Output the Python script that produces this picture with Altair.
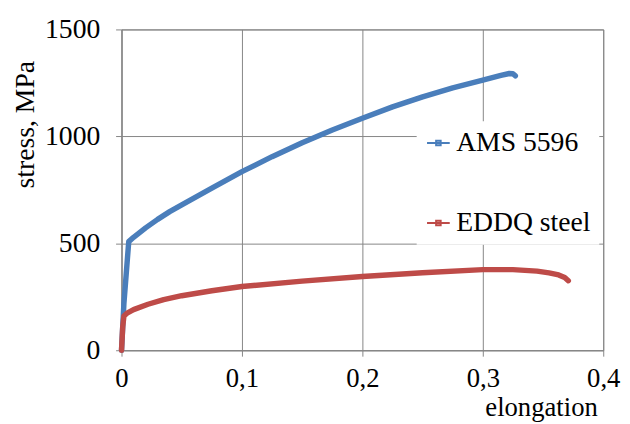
import altair as alt
import pandas as pd

series_names = ["AMS 5596", "EDDQ steel"]
series_colors = ["#4A7EBB", "#BE4B48"]

ams_elong = [0, 0.002, 0.006, 0.01, 0.02, 0.03, 0.04, 0.05, 0.075, 0.1, 0.125, 0.15, 0.175,
             0.2, 0.225, 0.25, 0.275, 0.3, 0.315, 0.322, 0.325, 0.327]
ams_stress = [0, 220, 508, 528, 572, 612, 648, 680, 758, 835, 905, 970, 1030,
              1085, 1138, 1185, 1227, 1263, 1285, 1294, 1293, 1283]

eddq_elong = [0, 0.001, 0.002, 0.005, 0.01, 0.022, 0.035, 0.05, 0.075, 0.1, 0.15, 0.2,
              0.25, 0.3, 0.325, 0.345, 0.355, 0.363, 0.368, 0.371]
eddq_stress = [0, 110, 160, 175, 190, 215, 237, 255, 278, 298, 323, 345,
               362, 377, 377, 370, 362, 352, 340, 325]

x_ticks = [0, 0.1, 0.2, 0.3, 0.4]
y_ticks = [0, 500, 1000, 1500]

rows = []
for i, (e, s) in enumerate(zip(ams_elong, ams_stress)):
    rows.append({"series": series_names[0], "elongation": e, "stress": s, "idx": i})
for i, (e, s) in enumerate(zip(eddq_elong, eddq_stress)):
    rows.append({"series": series_names[1], "elongation": e, "stress": s, "idx": i})
df = pd.DataFrame(rows)

FONT = "Liberation Serif"
GRID = "#858585"

chart = alt.Chart(df).mark_line(
    strokeWidth=5.5, strokeCap="round", strokeJoin="round"
).encode(
    x=alt.X(
        "elongation:Q",
        scale=alt.Scale(domain=[0, 0.4], nice=False, zero=False),
        axis=alt.Axis(
            values=x_ticks,
            labelExpr="datum.value == 0 ? '0' : replace(format(datum.value, '.1f'), '.', ',')",
            title="elongation",
            titleX=425, titleY=66, titleAlign="center", titleBaseline="alphabetic",
            titleFontSize=27,
            labelPadding=10, labelFontSize=27, tickSize=6,
            labelFlush=False, labelOverlap=False,
        ),
    ),
    y=alt.Y(
        "stress:Q",
        scale=alt.Scale(domain=[0, 1500], nice=False),
        axis=alt.Axis(
            values=y_ticks,
            format="d",
            title="stress, MPa",
            titleX=-89, titleY=96, titleAngle=270, titleAlign="center",
            titleBaseline="alphabetic",
            labelPadding=16, tickSize=6, labelOverlap=False,
        ),
    ),
    color=alt.Color(
        "series:N",
        scale=alt.Scale(domain=series_names, range=series_colors),
        legend=alt.Legend(
            title=None, orient="none", legendX=299, legendY=93, direction="vertical",
            fillColor="white", padding=8, labelFont=FONT, labelFontSize=28,
            labelColor="black", symbolType="M-1,0H1M-0.2,-0.2H0.2V0.2H-0.2Z",
            symbolSize=529, symbolStrokeWidth=2, labelOffset=4, rowPadding=53,
            labelLimit=400,
        ),
    ),
    order="idx:Q",
).properties(
    width=488,
    height=325,
    autosize=alt.AutoSizeParams(type="none"),
    padding={"left": 115, "top": 19, "right": 19, "bottom": 72},
).configure_axis(
    grid=True, gridColor=GRID, gridWidth=1, gridOpacity=1,
    domainColor=GRID, tickColor=GRID, domainWidth=1,
    labelFont=FONT, labelFontSize=28, labelColor="black",
    titleFont=FONT, titleFontSize=28, titleFontWeight="normal", titleColor="black",
).configure_view(stroke=GRID)

chart.save("out.html", embed_options={"renderer": "svg", "actions": False})
